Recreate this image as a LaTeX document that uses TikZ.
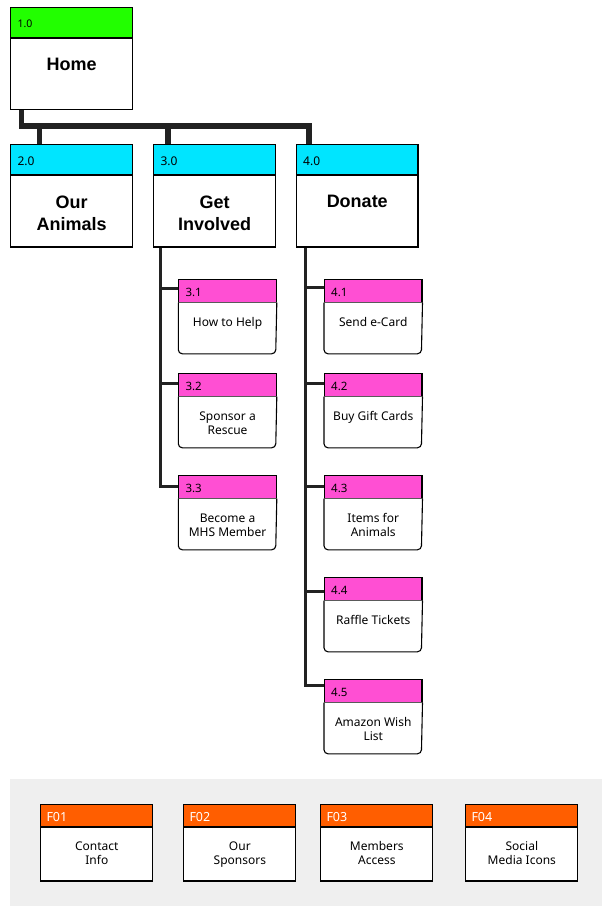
\documentclass[tikz,border=0pt]{standalone}
\usepackage{fontspec}
\setmainfont{Noto Sans}
\newfontfamily\titlefont{Liberation Sans}
\usetikzlibrary{calc}
\definecolor{cgreen}{HTML}{22FF00}
\definecolor{ccyan}{HTML}{00E5FF}
\definecolor{cpink}{HTML}{FF4FD3}
\definecolor{corange}{HTML}{FF5E00}
\definecolor{cgrey}{HTML}{EFEFEF}
\definecolor{cline}{HTML}{222222}
\tikzset{
  boxline/.style={draw=black, line width=1.1pt},
  mainconn/.style={draw=cline, line width=5.5pt, line join=miter},
  subconn/.style={draw=cline, line width=3pt, line join=miter},
  hdr/.style={boxline, inner sep=0pt, anchor=north west},
  lbl/.style={anchor=west, inner sep=0pt},
  ttl/.style={anchor=north, inner sep=0pt, align=center, font=\titlefont\bfseries\fontsize{18}{22}\selectfont},
  txt/.style={anchor=north, inner sep=0pt, align=center, font=\fontsize{12}{14}\selectfont},
}
% top-level box: name, x, y, colour, label, title, label size
\newcommand{\topbox}[7]{%
  \node[hdr, fill=#4, minimum width=121.4pt, minimum height=29.5pt] (#1-h) at (#2,#3) {};
  \node[boxline, fill=white, inner sep=0pt, anchor=north west, minimum width=121.4pt, minimum height=71.5pt] (#1-b) at (#1-h.south west) {};
  \draw[line width=1.8pt] (#1-h.south west) -- (#1-h.south east);
  \node[lbl, font=\fontsize{#7}{#7}\selectfont] (#1-l) at ($(#1-h.west)+(7,1.5)$) {#5};
  \node[ttl] (#1-t) at ($(#1-b.north)+(0,20.5)$) {#6};
}
% sub page box with rounded bottom corners
\newcommand{\subbox}[5]{%
  \node[hdr, fill=cpink, minimum width=97.4pt, minimum height=22.3pt] (#1-h) at (#2,#3) {};
  \filldraw[boxline, fill=white, rounded corners=4pt] (#1-h.south west) -- ++(0,51.1) -- ++(97.4,0) -- (#1-h.south east);
  \node[lbl, font=\fontsize{11.5}{11.5}\selectfont] (#1-l) at ($(#1-h.west)+(7,1.5)$) {#4};
  \node[txt] (#1-t) at ($(#1-h.south)+(0,14.6)$) {#5};
}
% footer box
\newcommand{\footbox}[5]{%
  \node[hdr, fill=corange, minimum width=112pt, minimum height=21.8pt] (#1-h) at (#2,#3) {};
  \node[boxline, fill=white, inner sep=0pt, anchor=north west, minimum width=112pt, minimum height=53.5pt] (#1-b) at (#1-h.south west) {};
  \node[lbl, text=white, font=\fontsize{12.5}{12.5}\selectfont] (#1-l) at ($(#1-h.west)+(6,1.5)$) {#4};
  \node[txt] (#1-t) at ($(#1-b.north)+(0,14.6)$) {#5};
}
\begin{document}
\begin{tikzpicture}[x=1pt, y=-1pt]
\useasboundingbox (0,0) rectangle (602,911);
\fill[white] (0,0) rectangle (602,911);
% footer band
\fill[cgrey] (10,779) rectangle (602,906);

% connectors (drawn first, boxes on top)
\coordinate (homeout) at (21.7,108.3);
\coordinate (donin) at (308.8,144.3);
\draw[mainconn] (homeout) -- ++(0,17.5) -| (donin);
\coordinate (oain) at (39.7,144.3);
\coordinate (giin) at (168,144.3);
\draw[mainconn] (oain) -- ++(0,-18.5);
\draw[mainconn] (giin) -- ++(0,-18.5);

\coordinate (giout) at (160,245);
\coordinate (donout) at (305.7,245);
\coordinate (j31) at (178.3,288.3);
\coordinate (j32) at (178.3,383.3);
\coordinate (j33) at (178.3,486.7);
\coordinate (j41) at (324,287.3);
\coordinate (j42) at (324,383);
\coordinate (j43) at (324,486.3);
\coordinate (j44) at (324,591.3);
\coordinate (j45) at (324,685.3);
\draw[subconn] (giout) |- (j33);
\draw[subconn] (j31) -- (giout |- j31);
\draw[subconn] (j32) -- (giout |- j32);
\draw[subconn] (donout) |- (j45);
\draw[subconn] (j41) -- (donout |- j41);
\draw[subconn] (j42) -- (donout |- j42);
\draw[subconn] (j43) -- (donout |- j43);
\draw[subconn] (j44) -- (donout |- j44);

% top level
\topbox{home}{10.3}{7}{cgreen}{1.0}{Home}{10.5}
\topbox{oa}{10.3}{144.3}{ccyan}{2.0}{Our\\Animals}{12}
\topbox{gi}{153.3}{144.3}{ccyan}{3.0}{Get\\Involved}{12}
\topbox{don}{296}{144.3}{ccyan}{4.0}{Donate}{12}

% sub pages
\subbox{s31}{178.3}{279.3}{3.1}{How to Help}
\subbox{s32}{178.3}{373.3}{3.2}{Sponsor a\\Rescue}
\subbox{s33}{178.3}{475.3}{3.3}{Become a\\MHS Member}
\subbox{s41}{324}{279.3}{4.1}{Send e-Card}
\subbox{s42}{324}{373.3}{4.2}{Buy Gift Cards}
\subbox{s43}{324}{475.3}{4.3}{Items for\\Animals}
\subbox{s44}{324}{577.3}{4.4}{Raffle Tickets}
\subbox{s45}{324}{679.3}{4.5}{Amazon Wish\\List}

% footer
\footbox{f1}{40.3}{804}{F01}{Contact\\Info}
\footbox{f2}{183.3}{804}{F02}{Our\\Sponsors}
\footbox{f3}{320.3}{804}{F03}{Members\\Access}
\footbox{f4}{465.3}{804}{F04}{Social\\Media Icons}
\end{tikzpicture}
\end{document}
